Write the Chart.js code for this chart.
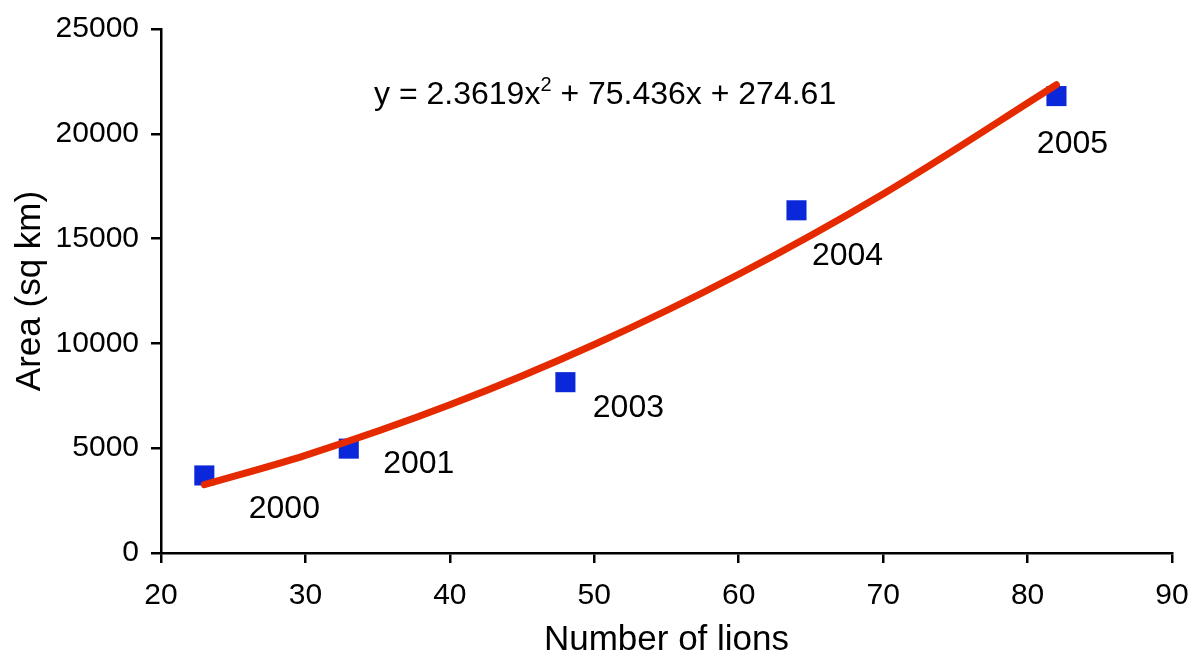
<!DOCTYPE html>
<html>
<head>
<meta charset="utf-8">
<script src="https://cdn.jsdelivr.net/npm/chart.js@4.4.1/dist/chart.umd.min.js"></script>
<style>
  html, body { margin: 0; padding: 0; background: #fff; }
  #wrap { width: 1191px; height: 655px; }
</style>
</head>
<body>
<div id="wrap"><canvas id="chart"></canvas></div>
<script>
const lions = [23, 33, 48, 64, 82];
const areas = [3700, 4980, 8150, 16350, 21800];
const years = ["2000", "2001", "2003", "2004", "2005"];

// trend curve
const trendX = [23, 30, 40, 50, 60, 70, 82];
const trendY = [3260, 4660, 7070, 9950, 13300, 17130, 22340];

const xTicks = [20, 30, 40, 50, 60, 70, 80, 90];
const yTicks = [0, 5000, 10000, 15000, 20000, 25000];

const FONT = "'Liberation Sans', Arial, sans-serif";
const labelOffsets = [[80, 34], [70, 16], [63, 26], [51, 46], [16, 48]];

const labelsPlugin = {
  id: "pointLabels",
  afterDatasetsDraw(chart) {
    const ctx = chart.ctx;
    const xs = chart.scales.x;
    const ys = chart.scales.y;
    ctx.save();
    ctx.fillStyle = "#000";
    ctx.font = "32px " + FONT;
    ctx.textAlign = "center";
    ctx.textBaseline = "middle";
    years.forEach((y, i) => {
      const px = xs.getPixelForValue(lions[i]) + labelOffsets[i][0];
      const py = ys.getPixelForValue(areas[i]) + labelOffsets[i][1];
      ctx.fillText(y, px, py);
    });

    // trendline equation
    let ex = xs.getPixelForValue(34.75);
    const ey = ys.getPixelForValue(21430);
    ctx.textAlign = "left";
    ctx.textBaseline = "alphabetic";
    const part1 = "y = 2.3619x";
    const part2 = " + 75.436x + 274.61";
    ctx.fillText(part1, ex, ey);
    ex += ctx.measureText(part1).width;
    ctx.font = "20px " + FONT;
    ctx.fillText("2", ex, ey - 13);
    ex += ctx.measureText("2").width;
    ctx.font = "32px " + FONT;
    ctx.fillText(part2, ex, ey);
    ctx.restore();
  },
};

new Chart(document.getElementById("chart"), {
  type: "scatter",
  data: {
    datasets: [
      {
        label: "Trend",
        data: trendX.map((x, i) => ({ x: x, y: trendY[i] })),
        showLine: true,
        borderColor: "#E62A00",
        borderWidth: 7,
        pointRadius: 0,
        cubicInterpolationMode: "monotone",
        borderCapStyle: "round",
        order: 0,
      },
      {
        label: "Area",
        data: lions.map((x, i) => ({ x: x, y: areas[i] })),
        pointStyle: "rect",
        pointRadius: 14.2,
        backgroundColor: "#0A28DA",
        borderWidth: 0,
        order: 1,
      },
    ],
  },
  options: {
    responsive: true,
    maintainAspectRatio: false,
    animation: false,
    layout: { padding: { top: 29, right: 19, bottom: 0, left: 0 } },
    plugins: {
      legend: { display: false },
      tooltip: { enabled: false },
    },
    scales: {
      x: {
        type: "linear",
        min: 20,
        max: 90,
        afterBuildTicks: (s) => { s.ticks = xTicks.map((v) => ({ value: v })); },
        afterFit: (s) => { s.height = 102; s.paddingRight = 0; s.paddingLeft = 0; },
        grid: { drawOnChartArea: false, tickLength: 10, color: "#000", lineWidth: 2.5 },
        border: { color: "#000", width: 2.5 },
        ticks: {
          color: "#000",
          font: { family: FONT, size: 30 },
          padding: 15,
          maxRotation: 0,
          callback: (v) => String(v),
        },
        title: {
          display: true,
          text: "Number of lions",
          color: "#000",
          font: { family: FONT, size: 35, lineHeight: 0.85 },
          padding: { top: 0, bottom: 0 },
        },
      },
      y: {
        min: 0,
        max: 25000,
        afterBuildTicks: (s) => { s.ticks = yTicks.map((v) => ({ value: v })); },
        afterFit: (s) => { s.width = 161; s.paddingTop = 0; s.paddingBottom = 0; },
        grid: { drawOnChartArea: false, tickLength: 10, color: "#000", lineWidth: 2.5 },
        border: { color: "#000", width: 2.5 },
        ticks: {
          color: "#000",
          font: { family: FONT, size: 30 },
          padding: 12,
          callback: (v) => String(v),
        },
        title: {
          display: true,
          text: "Area (sq km)",
          color: "#000",
          font: { family: FONT, size: 35, lineHeight: 1.2 },
          padding: { top: 9, bottom: 0 },
        },
      },
    },
  },
  plugins: [labelsPlugin],
});
</script>
</body>
</html>
